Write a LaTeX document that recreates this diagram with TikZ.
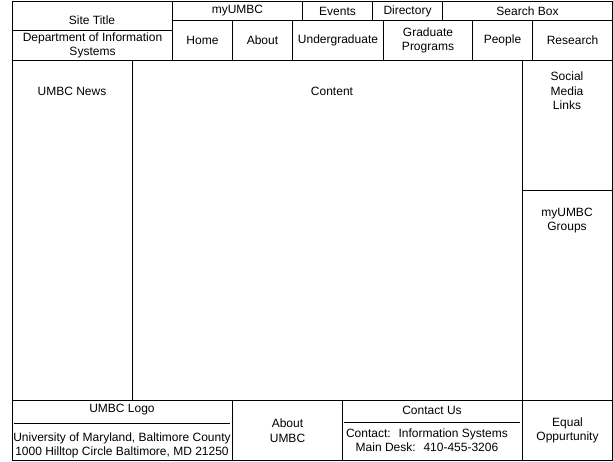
\documentclass[tikz,border=0pt]{standalone}
\usepackage{fontspec}
\setmainfont{Liberation Sans}
\usetikzlibrary{positioning}
\tikzset{
	box/.style={draw, line width=1pt, inner sep=0pt, anchor=north west, align=center, font=\fontsize{12}{14.5}\selectfont},
	lbl/.style={inner sep=0pt, align=center, font=\fontsize{12}{14.5}\selectfont},
	rule/.style={line width=1pt},
}

\begin{document}
\begin{tikzpicture}[x=1pt, y=-1pt]
	\useasboundingbox (0,0) rectangle (613,461);

	% header
	\node[box, minimum width=160pt, minimum height=29pt] (site) at (12,1) {};
	\node[lbl] (sitelbl) at (92,20) {Site Title};
	\node[box, minimum width=160pt, minimum height=30pt] (dept) at (12,30) {Department of Information\\Systems};

	\node[box, minimum width=130pt, minimum height=19pt] (myumbc) at (172,1) {myUMBC};
	\node[box, minimum width=70pt, minimum height=19pt] (events) at (302,1) {Events};
	\node[box, minimum width=70pt, minimum height=19pt] (directory) at (372,1) {Directory};
	\node[box, minimum width=170pt, minimum height=19pt] (search) at (442,1) {Search Box};

	\node[box, minimum width=60pt, minimum height=40pt] (home) at (172,20) {Home};
	\node[box, minimum width=60pt, minimum height=40pt] (about) at (232,20) {About};
	\node[box, minimum width=91pt, minimum height=40pt] (undergrad) at (292,20) {Undergraduate};
	\node[box, minimum width=89pt, minimum height=40pt] (grad) at (383,20) {Graduate\\Programs};
	\node[box, minimum width=60pt, minimum height=40pt] (people) at (472,20) {People};
	\node[box, minimum width=80pt, minimum height=40pt] (research) at (532,20) {Research};

	% body
	\node[box, minimum width=120pt, minimum height=340pt] (news) at (12,60) {};
	\node[lbl] (newslbl) at (72,91) {UMBC News};
	\node[box, minimum width=390pt, minimum height=340pt] (content) at (132,60) {};
	\node[lbl] (contentlbl) at (332,91) {Content};
	\node[box, minimum width=90pt, minimum height=130pt] (social) at (522,60) {};
	\node[lbl] (sociallbl) at (567,91) {Social\\Media\\Links};
	\node[box, minimum width=90pt, minimum height=210pt] (groups) at (522,190) {};
	\node[lbl] (groupslbl) at (567,220.5) {myUMBC\\Groups};

	% footer
	\node[box, minimum width=220pt, minimum height=60pt] (logo) at (12,400) {};
	\node[lbl] (logolbl) at (122,410) {UMBC Logo};
	\coordinate (logoL) at (14,423);
	\coordinate (logoR) at (230,423);
	\draw[rule] (logoL) -- (logoR);
	\node[lbl] (address) at (122,445.5) {University of Maryland, Baltimore County\\1000 Hilltop Circle Baltimore, MD 21250};

	\node[box, minimum width=110pt, minimum height=60pt] (aboutumbc) at (232,400) {About\\UMBC};

	\node[box, minimum width=180pt, minimum height=60pt] (contact) at (342,400) {};
	\node[lbl] (contactlbl) at (432,410) {Contact Us};
	\coordinate (contactL) at (344,422);
	\coordinate (contactR) at (520,422);
	\draw[rule] (contactL) -- (contactR);
	\node[lbl] (contactinfo) at (427,440) {Contact:~ Information Systems\\Main Desk:~ 410-455-3206};

	\node[box, minimum width=90pt, minimum height=60pt] (equal) at (522,400) {Equal\\Oppurtunity};
\end{tikzpicture}
\end{document}
